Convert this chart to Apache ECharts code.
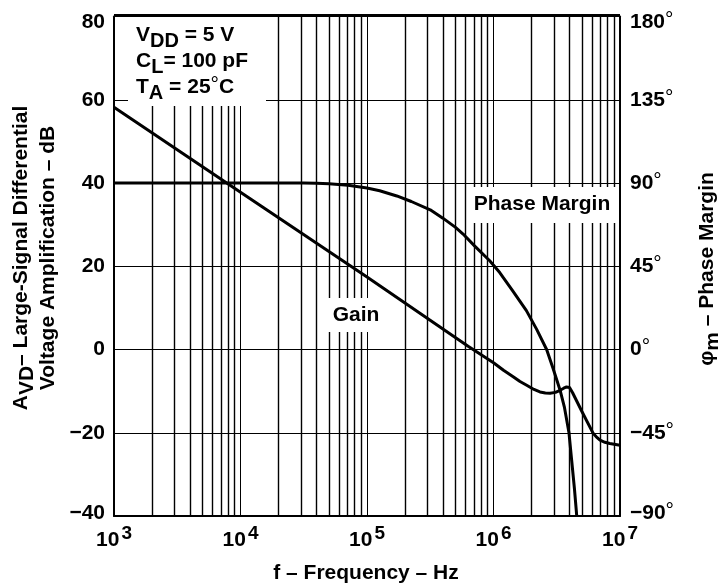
<!DOCTYPE html>
<html><head><meta charset="utf-8">
<script src="https://cdn.jsdelivr.net/npm/echarts@6/dist/echarts.min.js"></script>
<style>html,body{margin:0;padding:0;background:#fff}#c{width:718px;height:584px}</style>
</head><body><div id="c"></div>
<script>
// ---- data ----
const gainFreq = [1e3, 1e4, 1e5, 6.3e5, 1e6, 1.2e6, 1.44e6, 1.62e6, 1.83e6, 2.09e6, 2.33e6, 2.57e6, 2.8e6, 3.09e6, 3.36e6, 3.59e6, 3.78e6, 3.98e6, 4.22e6, 5.0e6, 6.15e6, 6.6e6, 6.95e6, 7.6e6, 8.3e6, 1e7];
const gainDb   = [58.2, 37.8, 17.4, 0.8, -3.2, -5.0, -6.6, -7.7, -8.6, -9.6, -10.2, -10.45, -10.5, -10.3, -9.8, -9.3, -9.0, -9.1, -10.4, -14.9, -20.2, -21.2, -21.8, -22.3, -22.6, -23.0];
const phaseFreq = [1e3, 1e4, 3.16e4, 3.98e4, 5.01e4, 7.08e4, 1e5, 1.26e5, 1.72e5, 2.24e5, 3.16e5, 3.98e5, 5.01e5, 5.75e5, 7.08e5, 9.33e5, 1.12e6, 1.41e6, 1.82e6, 2.19e6, 2.63e6, 2.95e6, 3.36e6, 3.63e6, 3.95e6, 4.15e6, 4.36e6, 4.55e6];
const phaseDeg  = [90, 90, 90, 89.9, 89.6, 88.8, 87.3, 85.8, 83, 80, 75.5, 71, 66, 62.4, 56, 48, 41.6, 32, 21, 11, 0, -10, -22, -31, -45, -60, -75, -90];
const leftTicks = [-40, -20, 0, 20, 40, 60, 80];
const rightTicks = [-90, -45, 0, 45, 90, 135, 180];
const decades = [3, 4, 5, 6, 7];
const minorMultipliers = [2, 3, 4, 5, 6, 7, 8, 9];

const FONT = "'Liberation Sans', Arial, Helvetica, sans-serif";
const minorFreqs = [];
decades.slice(0, -1).forEach(d => minorMultipliers.forEach(m => minorFreqs.push(m * Math.pow(10, d))));

const chart = echarts.init(document.getElementById('c'));
const base = {fontFamily: FONT, fontWeight: 'bold', color: '#000'};
const sub = (fs, pad) => Object.assign({}, base, {fontSize: fs, lineHeight: 22, padding: pad});
const minus = v => String(v).replace('-', '\u2212');
const lblRich = {
  n: Object.assign({}, base, {fontSize: 21, lineHeight: 22}),
  t: Object.assign({}, base, {fontSize: 21, lineHeight: 22, padding: [12, 0, 0, 0]}),
  b: Object.assign({}, base, {fontSize: 21, lineHeight: 22, padding: [0, 0, 5, 0]}),
  d: {fontFamily: FONT, fontWeight: 'normal', fontSize: 21, lineHeight: 22, color: '#000', padding: [0, 0, 4, 0]},
  dt: {fontFamily: FONT, fontWeight: 'normal', fontSize: 21, lineHeight: 22, color: '#000', padding: [8, 0, 0, 0]},
  db: {fontFamily: FONT, fontWeight: 'normal', fontSize: 21, lineHeight: 22, color: '#000', padding: [0, 0, 9, 0]}
};
const tickFmt = (ticks, deg) => v => {
  const k = v === ticks[ticks.length - 1] ? 't' : (v === ticks[0] ? 'b' : 'n');
  let s = '{' + k + '|' + minus(v) + '}';
  if (deg) s += '{' + (k === 't' ? 'dt' : k === 'b' ? 'db' : 'd') + '|\u00b0}';
  return s;
};

chart.setOption({
  animation: false,
  backgroundColor: '#fff',
  grid: {left: 114, top: 15, right: 98, bottom: 68, show: false},
  xAxis: {
    type: 'log', logBase: 10, min: Math.pow(10, decades[0]), max: Math.pow(10, decades[decades.length - 1]),
    axisLine: {show: true, onZero: false, lineStyle: {color: '#000', width: 2}},
    axisTick: {show: false},
    splitLine: {show: true, lineStyle: {color: '#000', width: 1}},
    axisLabel: {
      margin: 13,
      formatter: v => '{b|10}{s|' + Math.round(Math.log10(v)) + '}',
      rich: {b: Object.assign({}, base, {fontSize: 21, lineHeight: 22}), s: sub(19, [0, 0, 12, 2])}
    }
  },
  yAxis: [{
    type: 'value', min: leftTicks[0], max: leftTicks[leftTicks.length - 1], interval: leftTicks[1] - leftTicks[0],
    axisLine: {show: true, lineStyle: {color: '#000', width: 2}},
    axisTick: {show: false},
    splitLine: {show: true, lineStyle: {color: '#000', width: 1}},
    axisLabel: {margin: 9, formatter: tickFmt(leftTicks, false), rich: lblRich}
  }, {
    type: 'value', min: rightTicks[0], max: rightTicks[rightTicks.length - 1], interval: rightTicks[1] - rightTicks[0],
    position: 'right',
    axisLine: {show: true, lineStyle: {color: '#000', width: 2}},
    axisTick: {show: false},
    splitLine: {show: false},
    axisLabel: {margin: 10, formatter: tickFmt(rightTicks, true), rich: lblRich}
  }],
  series: [{
    type: 'line', name: 'grid', data: [], z: 1, silent: true,
    markLine: {silent: true, symbol: 'none', animation: false, label: {show: false},
      lineStyle: {color: '#000', width: 1.4, type: 'solid', opacity: 1},
      data: minorFreqs.map(f => ({xAxis: f}))}
  }, {
    type: 'line', name: 'Gain', z: 10, yAxisIndex: 0,
    data: gainFreq.map((f, i) => [f, gainDb[i]]),
    showSymbol: false, smooth: false,
    lineStyle: {color: '#000', width: 3}
  }, {
    type: 'line', name: 'Phase Margin', z: 10, yAxisIndex: 1,
    data: phaseFreq.map((f, i) => [f, phaseDeg[i]]),
    showSymbol: false, smooth: false,
    lineStyle: {color: '#000', width: 3}
  }],
  graphic: [
    {type: 'line', z: 20, shape: {x1: 114, y1: 15, x2: 620, y2: 15}, style: {stroke: '#000', lineWidth: 2}},
    {type: 'rect', z: 8, shape: {x: 128, y: 17, width: 138, height: 89}, style: {fill: '#fff'}},
    {type: 'rect', z: 8, shape: {x: 321, y: 298, width: 70, height: 34}, style: {fill: '#fff'}},
    {type: 'rect', z: 8, shape: {x: 468, y: 187, width: 150, height: 36}, style: {fill: '#fff'}},
    {type: 'text', z: 9, x: 136, y: 35, style: {text: '{a|V}{s|DD}{a| = 5 V}', align: 'left', verticalAlign: 'middle',
      rich: {a: Object.assign({}, base, {fontSize: 21, lineHeight: 22}), s: sub(20, [12, 0, 0, 0])}}},
    {type: 'text', z: 9, x: 136, y: 61, style: {text: '{a|C}{s|L}{a|= 100 pF}', align: 'left', verticalAlign: 'middle',
      rich: {a: Object.assign({}, base, {fontSize: 21, lineHeight: 22}), s: sub(20, [12, 0, 0, 0])}}},
    {type: 'text', z: 9, x: 136, y: 87, style: {text: '{a|T}{s|A}{a| = 25}{d|\u00b0}{a|C}', align: 'left', verticalAlign: 'middle',
      rich: {a: Object.assign({}, base, {fontSize: 21, lineHeight: 22}), s: sub(20, [12, 0, 0, 0]),
        d: {fontFamily: FONT, fontWeight: 'normal', fontSize: 21, lineHeight: 22, color: '#000', padding: [0, 0, 4, 0]}}}},
    {type: 'text', z: 9, x: 356, y: 315, style: {text: 'Gain', align: 'center', verticalAlign: 'middle', fill: '#000',
      font: 'bold 21px ' + FONT}},
    {type: 'text', z: 9, x: 542, y: 204, style: {text: 'Phase Margin', align: 'center', verticalAlign: 'middle', fill: '#000',
      font: 'bold 21px ' + FONT}},
    {type: 'text', z: 9, x: 366, y: 573, style: {text: 'f \u2013 Frequency \u2013 Hz', align: 'center', verticalAlign: 'middle', fill: '#000',
      font: 'bold 21px ' + FONT}},
    {type: 'text', z: 9, x: 21, y: 258, rotation: Math.PI / 2, style: {text: '{a|A}{s|VD}{a|\u2013 Large-Signal Differential}', align: 'center', verticalAlign: 'middle',
      rich: {a: Object.assign({}, base, {fontSize: 21, lineHeight: 22}), s: sub(21, [12, 0, 0, 0])}}},
    {type: 'text', z: 9, x: 48, y: 258, rotation: Math.PI / 2, style: {text: 'Voltage Amplification \u2013 dB', align: 'center', verticalAlign: 'middle', fill: '#000',
      font: 'bold 21px ' + FONT}},
    {type: 'text', z: 9, x: 707, y: 269, rotation: Math.PI / 2, style: {text: '{a|\u03c6}{s|m}{a| \u2013 Phase Margin}', align: 'center', verticalAlign: 'middle',
      rich: {a: Object.assign({}, base, {fontSize: 21, lineHeight: 22}), s: sub(21, [12, 0, 0, 0])}}}
  ]
});
</script></body></html>
